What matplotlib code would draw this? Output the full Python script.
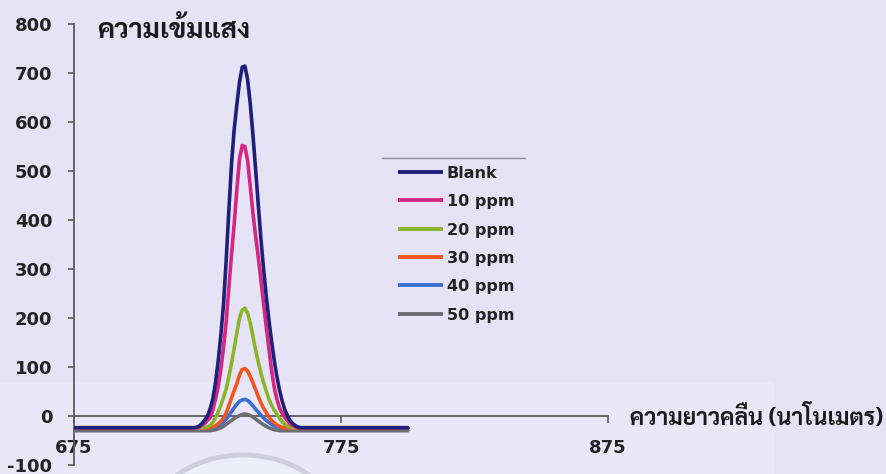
import matplotlib
matplotlib.use("Agg")
import matplotlib.pyplot as plt
from matplotlib.lines import Line2D
from matplotlib.patches import Rectangle, Ellipse

plt.rcParams["axes.unicode_minus"] = False

# Wavelength samples (nm)
wavelength = [675, 700, 715,
              720, 721, 722, 723, 724, 725, 726, 727, 728, 729,
              730, 731, 732, 733, 734, 735, 736, 737, 738, 739,
              740, 741, 742, 743, 744, 745, 746, 747, 748, 749,
              750, 751, 752, 753, 754, 755, 756, 757, 758, 759,
              760, 770, 785, 800]

# Light intensity at each wavelength sample
blank = [-24, -24, -24,
         -24, -23, -20, -15, -8, 0, 15, 35, 68, 112,
         165, 228, 318, 420, 515, 585, 636, 682, 712, 714,
         688, 638, 575, 505, 432, 362, 300, 245, 196, 153,
         113, 80, 52, 30, 12, 0, -10, -16, -20, -23,
         -24, -24, -24, -24]
ppm10 = [-24, -24, -24,
         -24, -24, -22, -19, -15, -9, -3, 12, 35, 60,
         95, 140, 192, 262, 330, 392, 462, 525, 552, 550,
         522, 470, 415, 368, 325, 278, 230, 182, 137, 93,
         58, 34, 16, 5, -3, -10, -16, -20, -22, -24,
         -24, -24, -24, -24]
ppm20 = [-24, -24, -24,
         -24, -24, -24, -24, -23, -22, -19, -13, -4, 8,
         22, 38, 55, 80, 108, 138, 170, 200, 216, 220,
         210, 190, 163, 135, 110, 88, 68, 51, 35, 22,
         12, 4, -5, -12, -17, -20, -22, -24, -24, -24,
         -24, -24, -24, -24]
ppm30 = [-24, -24, -24,
         -24, -24, -24, -24, -24, -24, -23, -22, -20, -16,
         -11, -4, 6, 21, 37, 52, 66, 84, 95, 97,
         92, 81, 68, 54, 40, 27, 16, 7, -2, -9,
         -14, -18, -21, -23, -24, -24, -24, -24, -24, -24,
         -24, -24, -24, -24]
ppm40 = [-24, -24, -24,
         -24, -24, -24, -24, -24, -24, -24, -23, -22, -20,
         -17, -12, -6, 1, 9, 17, 24, 30, 33, 34,
         32, 27, 21, 14, 8, 2, -4, -9, -13, -17,
         -20, -22, -23, -24, -24, -24, -24, -24, -24, -24,
         -24, -24, -24, -24]
ppm50 = [-30, -30, -30,
         -30, -30, -30, -30, -30, -30, -30, -29, -28, -26,
         -24, -21, -17, -13, -9, -5, -2, 1, 3, 4,
         3, 1, -2, -6, -10, -14, -18, -21, -24, -26,
         -28, -29, -30, -30, -30, -30, -30, -30, -30, -30,
         -30, -30, -30, -30]

series_labels = ["Blank", "10 ppm", "20 ppm", "30 ppm", "40 ppm", "50 ppm"]
series_values = [blank, ppm10, ppm20, ppm30, ppm40, ppm50]
series_colors = ["#1f1f7c", "#d6267f", "#8cb42a", "#f2561d", "#3b6fd1", "#6e6e72"]

x_ticks = [675, 775, 875]
y_ticks = [-100, 0, 100, 200, 300, 400, 500, 600, 700, 800]

y_title = "ความเข้มแสง"
x_title = "ความยาวคลื่น (นาโนเมตร)"

W, H = 887, 474
bg = "#e6e3f6"
ink = "#232323"
axis_col = "#5a5a5a"
thai_font = ["Sarabun", "DejaVu Sans"]
num_font = ["DejaVu Sans"]


def fx(px):
    return px / W


def fy(py):
    return 1 - py / H


fig = plt.figure(figsize=(W / 100, H / 100), dpi=100, facecolor=bg)

# Paper tone: lighter lower band and a faint round stamp near the bottom edge
fig.add_artist(Rectangle((0, 0), fx(774), fy(382), transform=fig.transFigure,
                         facecolor="#eae8f8", edgecolor="none", zorder=0))
fig.add_artist(Ellipse((fx(243), fy(532)), fx(196), 154 / H, transform=fig.transFigure,
                       facecolor="#eeedfa", edgecolor="#d0cede", lw=3.5, zorder=0.5))

ax = fig.add_axes([fx(74), 9 / H, 534 / W, 441 / H])
ax.set_facecolor("none")

# Smallest series first so the blank curve stays on top
for vals, col in reversed(list(zip(series_values, series_colors))):
    ax.plot(wavelength, vals, color=col, lw=2.6, solid_capstyle="round",
            solid_joinstyle="round", zorder=3)

ax.set_xlim(675, 875)
ax.set_ylim(-100, 800)

for s in ("top", "right"):
    ax.spines[s].set_visible(False)
ax.spines["bottom"].set_position(("data", 0))
for s in ("bottom", "left"):
    ax.spines[s].set_color(axis_col)
    ax.spines[s].set_linewidth(1.3)

ax.set_xticks(x_ticks)
ax.set_yticks(y_ticks)
ax.tick_params(axis="x", direction="out", length=5, width=1.2, color=axis_col, pad=11.5)
ax.tick_params(axis="y", direction="out", length=4.5, width=1.2, color=axis_col, pad=11)
for t in ax.get_xticklabels() + ax.get_yticklabels():
    t.set_fontfamily(num_font)
    t.set_fontweight("bold")
    t.set_fontsize(13)
    t.set_color(ink)

# Axis titles, sized to their span on the canvas
renderer = fig.canvas.get_renderer()


def fitted_text(x_px, base_px, s, width_px):
    t = fig.text(fx(x_px), fy(base_px), s, fontfamily=thai_font, fontsize=17,
                 fontweight="bold", color="#1b1b1b", va="baseline", ha="left")
    w = t.get_window_extent(renderer=renderer).width
    t.set_fontsize(17 * width_px / w)
    return t


fitted_text(97, 38.5, y_title, 153)
fitted_text(630, 425, x_title, 254)

# Legend
leg_x0, leg_x1, leg_text_x = 398, 443, 447
leg_y0, leg_dy = 171.7, 28.4
fig.add_artist(Line2D([fx(382), fx(525)], [fy(158.3), fy(158.3)],
                      color="#8c8c9c", lw=1.0))
for i, (lab, col) in enumerate(zip(series_labels, series_colors)):
    yy = leg_y0 + i * leg_dy
    fig.add_artist(Line2D([fx(leg_x0), fx(leg_x1)], [fy(yy), fy(yy)],
                          color=col, lw=2.8, solid_capstyle="butt"))
    fig.text(fx(leg_text_x), fy(yy), lab, fontfamily=num_font, fontweight="bold",
             fontsize=11.5, color=ink, va="center_baseline", ha="left")

fig.savefig("out.png", dpi=100, facecolor=bg)
